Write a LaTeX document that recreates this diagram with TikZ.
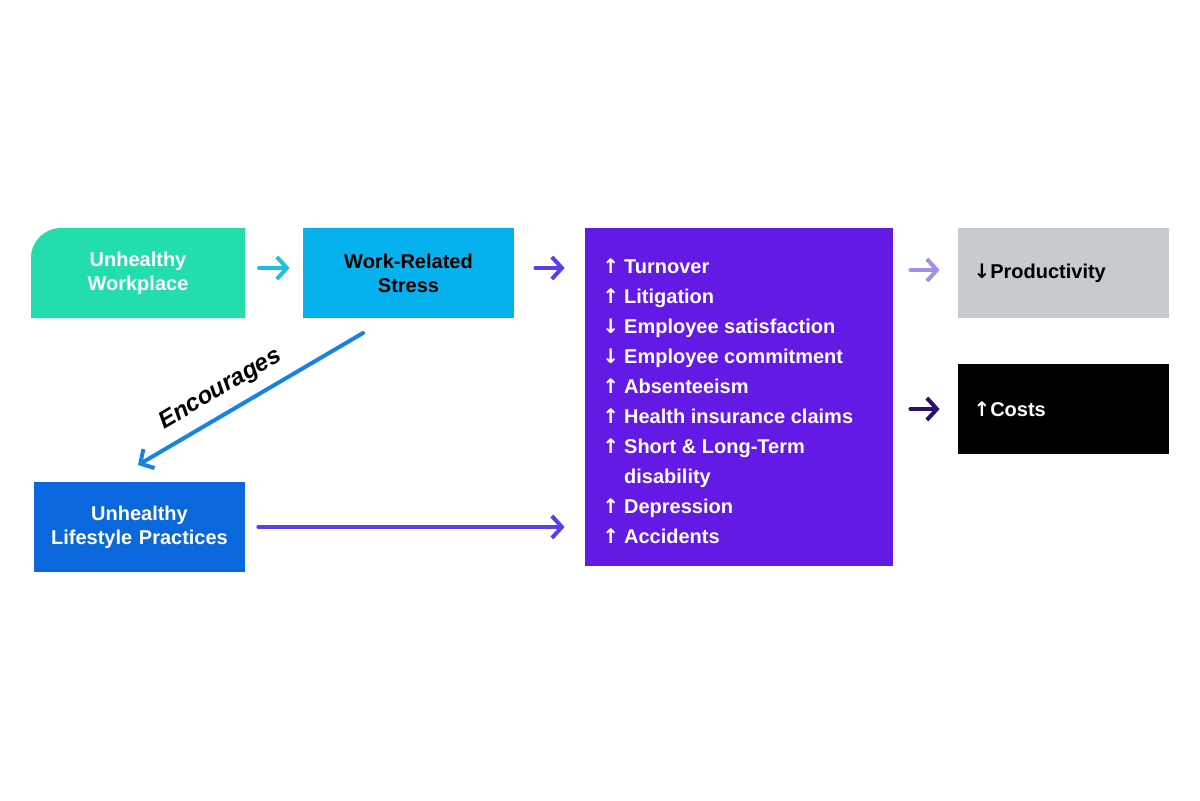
\documentclass[tikz,border=0pt]{standalone}
\usepackage{fontspec}
\setmainfont{Liberation Sans}
\newfontfamily\arrfont{DejaVu Sans}
\definecolor{wsGreen}{HTML}{24DDAC}
\definecolor{wsCyan}{HTML}{05B2EE}
\definecolor{wsBlue}{HTML}{0A68DC}
\definecolor{wsPurple}{HTML}{621AE4}
\definecolor{wsGray}{HTML}{C8CBCE}
\definecolor{wsArrCyan}{HTML}{1FC0DC}
\definecolor{wsArrViolet}{HTML}{5A3EE8}
\definecolor{wsArrBlue}{HTML}{1682E4}
\definecolor{wsArrLav}{HTML}{A58FE6}
\definecolor{wsArrDark}{HTML}{2C0F6B}
\usetikzlibrary{calc,positioning,arrows.meta}
\newcommand{\upar}{{\arrfont\char"2191}}
\newcommand{\dnar}{{\arrfont\char"2193}}

\begin{document}
\begin{tikzpicture}[x=0.5pt,y=-0.5pt,
  box/.style={minimum width=105.5pt,minimum height=45pt,inner sep=0pt,
    align=center,font=\bfseries,text width=100pt},
  flow/.style={line width=2pt,line cap=round,-{Straight Barb[length=5pt,width=11pt,line width=2pt]}}]
  \useasboundingbox (0,0) rectangle (1200,800);

  % left column
  \fill[wsGreen] (31,318) [rounded corners=15pt] -- (31,228) [sharp corners] -- (245,228) -- (245,318) -- cycle;
  \node[box,text=white] (wp) at (138,273) {Unhealthy\\Workplace};
  \node[box,fill=wsCyan] (stress) at (408.5,273) {Work-Related\\Stress};
  \node[box,fill=wsBlue,text=white] (ls) at (139.5,527) {Unhealthy\\Lifestyle Practices};

  % effects
  \node[fill=wsPurple,minimum width=154pt,minimum height=169pt,inner sep=0pt] (fx) at (739,397) {};
  \node[anchor=north west,text=white,font=\bfseries,inner sep=0pt] (fxlist) at (602,252) {%
    \renewcommand{\arraystretch}{1.25}%
    \begin{tabular}{@{}l@{\hspace{2.5pt}}l@{}}
      \upar & Turnover\\
      \upar & Litigation\\
      \dnar & Employee satisfaction\\
      \dnar & Employee commitment\\
      \upar & Absenteeism\\
      \upar & Health insurance claims\\
      \upar & Short \& Long-Term\\
            & disability\\
      \upar & Depression\\
      \upar & Accidents
    \end{tabular}};

  % outcomes
  \node[box,fill=wsGray,align=left,text width=90pt] (prod) at (1063.5,273) {\dnar Productivity};
  \node[box,fill=black,text=white,align=left,text width=90pt] (cost) at (1063.5,409) {\upar Costs};

  % connectors
  \draw[flow,color=wsArrCyan,shorten <=7.5pt,shorten >=6.5pt] ([yshift=2.5pt]wp.east) -- ([yshift=2.5pt]stress.west);
  \draw[flow,color=wsArrViolet,shorten <=10.5pt,shorten >=10pt] ([yshift=2.5pt]stress.east) -- ([yshift=2.5pt]stress.east -| fx.west);
  \coordinate (encA) at (363,333);
  \coordinate (encB) at (138,465);
  \draw[flow,color=wsArrBlue] (encA) -- node[sloped,above=2pt,pos=0.58,font=\large\bfseries\itshape,text=black] {Encourages} (encB);
  \draw[flow,color=wsArrViolet,shorten <=6.5pt,shorten >=10pt] (ls.east) -- (ls.east -| fx.west);
  \draw[flow,color=wsArrLav,shorten <=8.5pt,shorten >=9pt] ([yshift=1.5pt]prod.west -| fx.east) -- ([yshift=1.5pt]prod.west);
  \draw[flow,color=wsArrDark,shorten <=8.5pt,shorten >=9pt] (cost.west -| fx.east) -- (cost.west);
\end{tikzpicture}
\end{document}
